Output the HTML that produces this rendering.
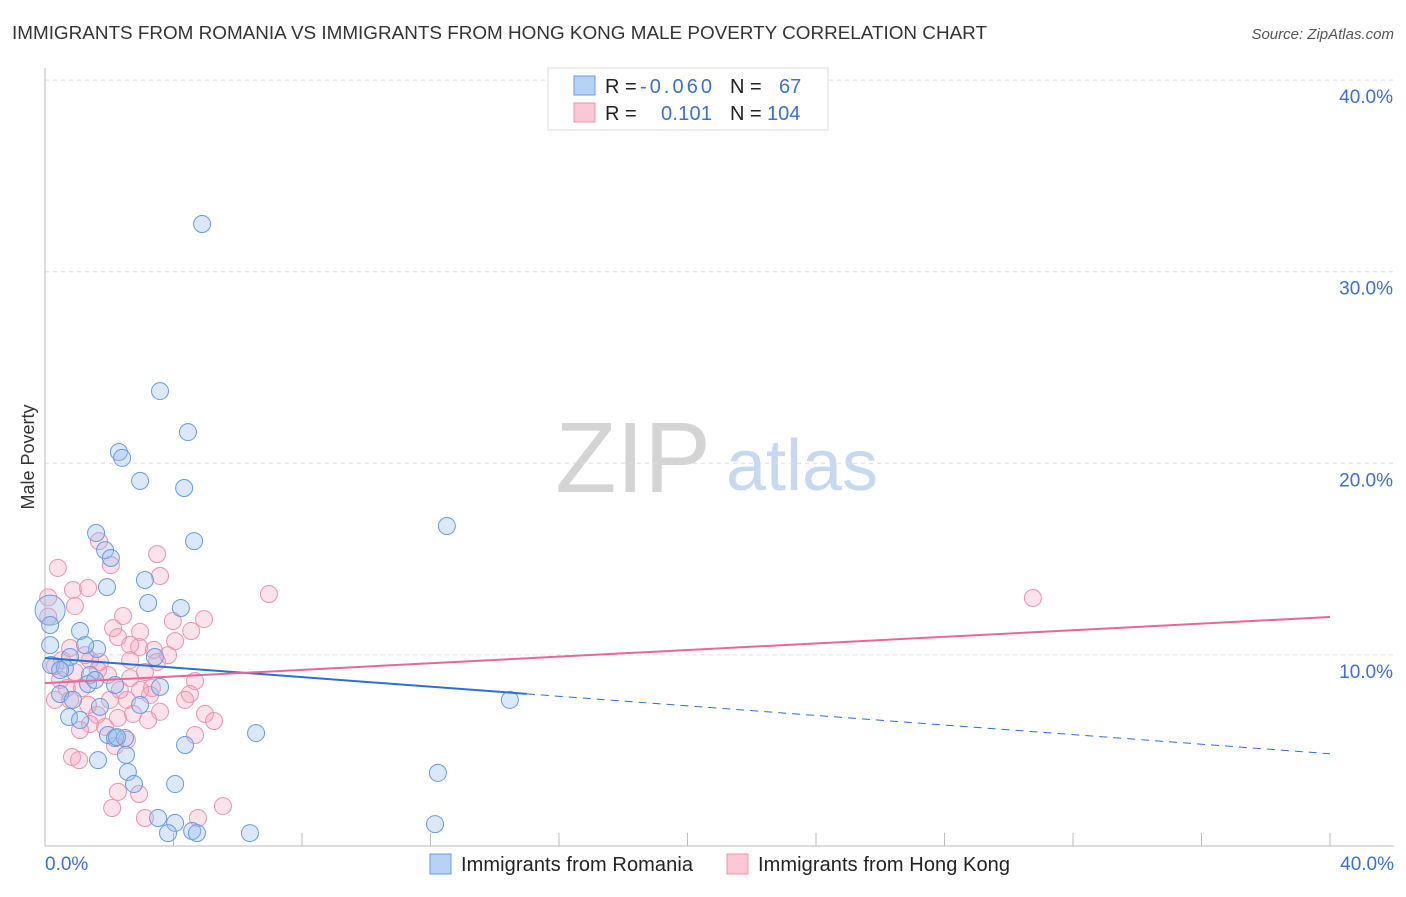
<!DOCTYPE html>
<html><head><meta charset="utf-8"><style>
body{margin:0;background:#fff;font-family:"Liberation Sans",sans-serif;}
svg text{font-family:"Liberation Sans",sans-serif;}
</style></head><body>
<svg id="chart" width="1406" height="892">
<text x="12" y="39" font-size="18" fill="#333" textLength="975" lengthAdjust="spacingAndGlyphs">IMMIGRANTS FROM ROMANIA VS IMMIGRANTS FROM HONG KONG MALE POVERTY CORRELATION CHART</text>
<text x="1394" y="39" font-size="15" fill="#555" text-anchor="end" font-style="italic">Source: ZipAtlas.com</text>
<text x="633" y="492" font-size="100" fill="#d4d4d4" text-anchor="middle" font-family="Liberation Serif">ZIP</text>
<text x="802" y="490" font-size="72" fill="#c8d8f0" text-anchor="middle">atlas</text>
<text transform="translate(34,457) rotate(-90)" font-size="18" fill="#333" text-anchor="middle">Male Poverty</text>
<g id="grid"></g><g id="axes"></g><g id="pts"></g><g id="lines"></g>
<g>
<rect x="548" y="68" width="280" height="62" fill="#fff" stroke="#ddd"/>
<rect x="574" y="76" width="21" height="19" fill="#b8d2f5" stroke="#6a9ae0"/>
<rect x="574" y="103" width="21" height="19" fill="#fcc8d6" stroke="#ec94ab"/>
<text x="605" y="93" font-size="20" fill="#222">R = <tspan x="640" fill="#3b6fd4" textLength="72">-0.060</tspan></text>
<text x="730" y="93" font-size="20" fill="#222">N = <tspan x="779" fill="#3b6fd4">67</tspan></text>
<text x="605" y="120" font-size="20" fill="#222">R = <tspan x="661" fill="#3b6fd4" textLength="51">0.101</tspan></text>
<text x="730" y="120" font-size="20" fill="#222">N = <tspan x="767" fill="#3b6fd4">104</tspan></text>
</g>
<g>
<rect x="430" y="854" width="21" height="20" fill="#b8d2f5" stroke="#6a9ae0"/>
<text x="461" y="871" font-size="20" fill="#222" textLength="232">Immigrants from Romania</text>
<rect x="727" y="854" width="21" height="20" fill="#fcc8d6" stroke="#ec94ab"/>
<text x="758" y="871" font-size="20" fill="#222" textLength="252">Immigrants from Hong Kong</text>
</g>
</svg>
<script>
const yTicks=[10,20,30,40];
const yTickLabels=["10.0%","20.0%","30.0%","40.0%"];
const xEndLabels=["0.0%","40.0%"];
const blueX=[4.89,3.58,4.45,2.30,2.40,2.96,4.33,12.51,1.59,4.64,1.87,2.05,3.11,1.93,3.21,4.23,1.09,0.16,0.16,0.16,1.62,0.78,3.42,0.19,0.62,1.40,1.34,2.18,0.47,0.87,1.71,2.96,0.75,1.09,1.96,2.18,2.49,4.36,6.57,1.65,2.52,2.58,2.77,4.05,12.23,14.47,3.52,4.05,3.83,4.58,4.73,6.38,12.14,1.25,0.47,1.56,2.24,3.58];
const blueY=[32.49,23.77,21.63,20.59,20.28,19.08,18.71,16.73,16.36,15.94,15.47,15.06,13.91,13.54,12.71,12.45,11.25,12.34,11.56,10.51,10.31,9.89,9.89,9.47,9.32,8.95,8.48,8.43,7.96,7.65,7.29,7.39,6.76,6.60,5.82,5.66,5.66,5.30,5.92,4.51,4.78,3.89,3.26,3.26,3.84,7.65,1.49,1.23,0.70,0.81,0.70,0.70,1.17,10.51,9.21,8.69,5.71,8.33];
const pinkX=[0.40,1.68,2.05,3.49,3.58,0.87,1.34,6.97,30.75,0.93,2.43,4.95,3.98,2.12,2.96,4.55,2.27,4.05,2.93,3.39,3.49,2.65,1.71,1.40,0.31,0.93,1.96,2.65,3.11,3.33,4.67,4.51,0.47,0.68,1.15,2.33,3.27,2.55,4.36,0.31,1.62,2.27,2.74,3.58,4.98,5.26,1.40,1.87,3.21,0.78,1.09,4.67,2.18,2.55,0.84,1.06,2.27,2.93,2.09,5.54,4.76,3.11,1.65,0.53,1.25,0.78,2.65,3.83,2.02,1.34,2.96,0.1,0.1];
const pinkY=[14.54,15.94,14.69,15.26,14.12,13.39,13.49,13.18,12.97,12.55,12.03,11.87,11.77,11.40,11.20,11.25,10.93,10.72,10.41,10.26,9.63,9.73,9.63,9.73,9.42,9.11,8.95,8.79,9.11,8.27,8.64,7.96,8.69,8.27,8.27,8.17,7.91,7.65,7.65,7.65,6.87,6.71,6.92,7.03,6.92,6.55,6.39,6.24,6.60,7.65,6.08,5.82,5.25,5.56,4.67,4.51,2.85,2.74,2.01,2.11,1.49,1.49,9.21,9.73,9.99,10.36,10.52,9.99,7.65,7.39,8.17,13.0,12.0];
const blueFit=[9.84,-0.125];
const pinkFit=[8.53,0.0862];
const sx=v=>45+v*32.125, sy=v=>846.5-v*19.16;
const NS="http://www.w3.org/2000/svg";
function mk(p,t,a){const e=document.createElementNS(NS,t);for(const k in a)e.setAttribute(k,a[k]);p.appendChild(e);return e;}
const grid=document.getElementById('grid'),axes=document.getElementById('axes'),pts=document.getElementById('pts'),lines=document.getElementById('lines');
yTicks.forEach((t,i)=>{
 const l=mk(grid,'line',{x1:45,x2:1394,y1:sy(t),y2:sy(t),stroke:'#ddd','stroke-dasharray':'4,4'});
 
 
 const tx=mk(grid,'text',{x:1393,y:sy(t)+23,'font-size':19,fill:'#3b6fd4','text-anchor':'end'});
 tx.textContent=yTickLabels[i];
 
 
});
const ax=mk(axes,'line',{x1:45,x2:45,y1:68,y2:846,stroke:'#bbb'});


const bx=mk(axes,'line',{x1:45,x2:1394,y1:846,y2:846,stroke:'#bbb'});


for(let v=0;v<=40;v+=4){
 const t=mk(axes,'line',{x1:sx(v),x2:sx(v),y1:833,y2:846,stroke:'#bbb'});
 
 
}
[[0,'start',45],[40,'end',1394]].forEach((d,i)=>{
 const t=mk(axes,'text',{x:d[2],y:870,'font-size':19,fill:'#3b6fd4','text-anchor':d[1]});
 t.textContent=xEndLabels[i];
 
 
});
pinkX.forEach((x,i)=>{
 const c=mk(pts,'circle',{cx:sx(x),cy:sy(pinkY[i]),r:8.5,fill:'rgba(245,160,190,0.3)',stroke:'#ec94ab','stroke-width':1});
 
 
});
blueX.forEach((x,i)=>{
 const c=mk(pts,'circle',{cx:sx(x),cy:sy(blueY[i]),r:i==17?15:8.5,fill:'rgba(150,190,240,0.35)',stroke:'#6a9ae0','stroke-width':1});
 
 
});
const f=(fit,x)=>fit[0]+fit[1]*x;
const b1=mk(lines,'line',{x1:sx(0),y1:sy(f(blueFit,0)),x2:sx(15),y2:sy(f(blueFit,15)),stroke:'#2c6fd6','stroke-width':2});


const b2=mk(lines,'line',{x1:sx(15),y1:sy(f(blueFit,15)),x2:sx(40),y2:sy(f(blueFit,40)),stroke:'#2c6fd6','stroke-width':1,'stroke-dasharray':'8,6'});


const p1=mk(lines,'line',{x1:sx(0),y1:sy(f(pinkFit,0)),x2:sx(40),y2:sy(f(pinkFit,40)),stroke:'#e8679a','stroke-width':2});


</script>
</body></html>
